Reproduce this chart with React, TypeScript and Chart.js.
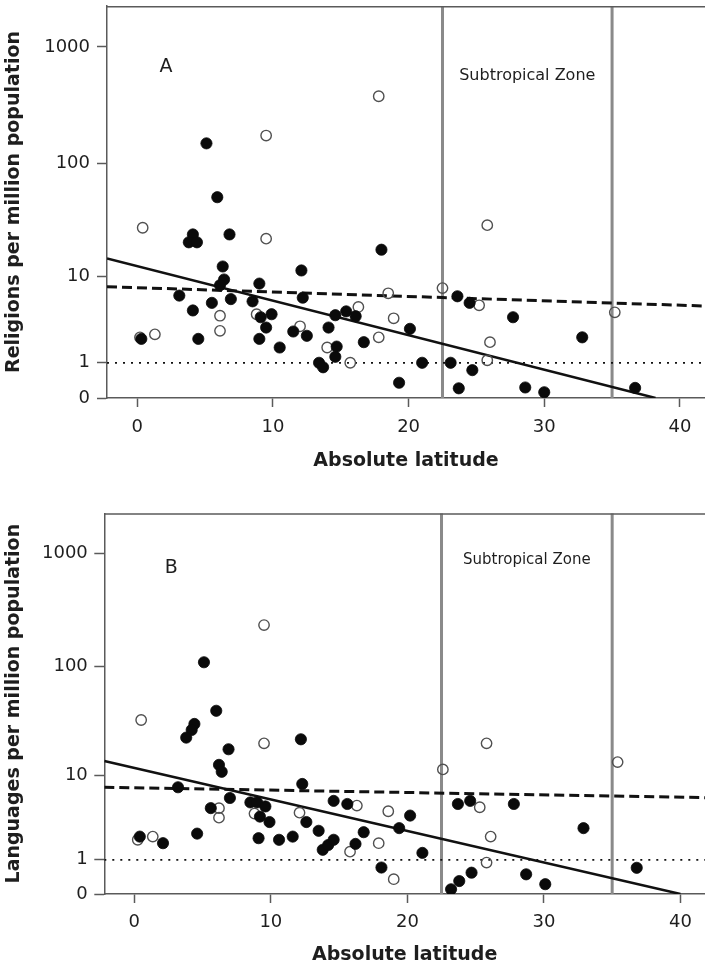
import React, { useEffect, useRef } from "react";
import { Chart, registerables } from "chart.js";

Chart.register(...registerables);

const FONT = "'DejaVu Sans', 'Verdana', sans-serif";
const TEXT = "#1e1e1e";
const AXIS = "#5a5a5a";
const CANVAS_W = 705;

// ---------- shared axis info ----------
const xTickValues = [0, 10, 20, 30, 40];
const yTickValues = [0, 1, 10, 100, 1000];
const yTickLabels = ["0", "1", "10", "100", "1000"];
const zoneBounds = [22.5, 35];
const zoneLabel = "Subtropical Zone";
const xTitle = "Absolute latitude";
const refLineValue = 1;

// ---------- Panel A: religions ----------
const aFilledLat = [0.3, 5.1, 5.9, 4.1, 3.8, 4.4, 6.8, 6.3, 6.4, 6.1, 3.1, 4.1, 5.5, 6.9, 4.5, 8.5, 9.0, 9.1, 9.9, 9.5, 9.0, 10.5, 12.1, 12.2, 11.5, 12.5, 14.1, 14.6, 14.7, 14.6, 13.4, 13.7, 15.4, 16.1, 16.7, 18.0, 19.3, 20.1, 21.0, 23.1, 23.6, 24.5, 24.7, 23.7, 27.7, 28.6, 30.0, 32.8, 36.7];
const aFilledVal = [2.2, 149, 51, 24, 20.4, 20.4, 24, 12.3, 9.3, 8.2, 6.5, 4.6, 5.5, 6.0, 2.2, 5.7, 8.5, 3.9, 4.2, 3.0, 2.2, 1.7, 11.3, 6.2, 2.7, 2.4, 3.0, 4.1, 1.75, 1.25, 1.0, 0.83, 4.5, 4.0, 2.0, 17.5, 0.35, 2.9, 1.0, 1.0, 6.4, 5.5, 0.73, 0.21, 3.9, 0.23, 0.12, 2.3, 0.22];
const aOpenLat = [0.2, 1.3, 0.4, 9.5, 9.5, 6.1, 6.1, 8.8, 12.0, 14.0, 15.7, 16.3, 17.8, 17.8, 18.5, 18.9, 22.5, 25.2, 25.8, 26.0, 25.8, 35.2];
const aOpenVal = [2.3, 2.5, 27.5, 174, 22, 4.05, 2.75, 4.2, 3.1, 1.7, 1.0, 5.0, 2.3, 378, 6.85, 3.8, 7.7, 5.2, 29, 2.0, 1.1, 4.4];
const aSolidLat = [-2.23, 38.2];
const aSolidVal = [14.6, 0];
const aDashedLat = [-2.23, 41.85];
const aDashedVal = [7.94, 5.11];

// ---------- Panel B: languages ----------
const bFilledLat = [5.1, 6.0, 4.4, 4.2, 3.8, 6.9, 12.2, 6.2, 6.4, 3.2, 12.3, 7.0, 5.6, 8.5, 9.0, 9.6, 9.2, 9.9, 4.6, 0.4, 2.1, 9.1, 10.6, 11.6, 12.6, 13.5, 13.8, 14.2, 14.6, 14.6, 15.6, 16.2, 16.8, 18.1, 19.4, 20.2, 21.1, 23.7, 24.6, 27.8, 24.7, 23.8, 23.2, 28.7, 30.1, 32.9, 36.8];
const bFilledVal = [108.6, 40, 30.4, 26.8, 22.8, 17.8, 22, 12.7, 10.9, 7.7, 8.3, 6.0, 4.7, 5.4, 5.4, 4.9, 3.8, 3.3, 2.4, 2.2, 1.8, 2.1, 2.0, 2.2, 3.3, 2.6, 1.45, 1.7, 2.0, 5.6, 5.2, 1.76, 2.5, 0.71, 2.8, 3.9, 1.3, 5.2, 5.6, 5.2, 0.54, 0.3, 0.1, 0.49, 0.22, 2.8, 0.7];
const bOpenLat = [9.5, 0.5, 9.5, 6.2, 6.2, 0.25, 1.35, 8.8, 12.1, 15.8, 16.3, 17.9, 18.6, 19.0, 22.6, 25.8, 35.4, 25.3, 26.1, 25.8];
const bOpenVal = [232, 33, 20.2, 4.7, 3.7, 2.0, 2.2, 4.1, 4.2, 1.36, 5.0, 1.8, 4.35, 0.35, 11.5, 20.2, 13.5, 4.8, 2.2, 0.89];
const bSolidLat = [-2.2, 40.0];
const bSolidVal = [13.8, 0];
const bDashedLat = [-2.2, 41.8];
const bDashedVal = [7.7, 6.05];

// log10(v + 1) transform used by the figure's y axis
const tr = (v: number) => Math.log10(v + 1);
const pts = (xs: number[], vs: number[]) => xs.map((x, i) => ({ x, y: tr(vs[i]) }));

const decorPlugin = {
  id: "panelDecor",
  afterDraw(chart: any, _args: any, opts: any) {
    const { ctx, chartArea, scales } = chart;
    ctx.save();
    ctx.strokeStyle = AXIS;
    ctx.lineWidth = 1.5;
    ctx.beginPath();
    ctx.moveTo(chartArea.left, chartArea.top + 0.75);
    ctx.lineTo(chartArea.right, chartArea.top + 0.75);
    ctx.stroke();
    ctx.fillStyle = TEXT;
    ctx.textAlign = "center";
    ctx.textBaseline = "middle";
    ctx.font = `19px ${FONT}`;
    ctx.fillText(opts.letter, chartArea.left + opts.letterDx, chartArea.top + opts.letterDy);
    ctx.font = `${opts.zoneSize}px ${FONT}`;
    const xMid = scales.x.getPixelForValue((zoneBounds[0] + zoneBounds[1]) / 2);
    ctx.fillText(zoneLabel, xMid, chartArea.top + opts.zoneDy);
    ctx.restore();
  },
};

type PanelCfg = {
  filledLat: number[]; filledVal: number[];
  openLat: number[]; openVal: number[];
  solidLat: number[]; solidVal: number[];
  dashedLat: number[]; dashedVal: number[];
  yTitle: string; xMin: number; xMax: number; yMaxT: number;
  padTop: number; yAxisWidth: number; xAxisHeight: number;
  xTickPad: number; yTickPad: number; xTitlePad: number;
  letter: string; letterDx: number; letterDy: number; zoneDy: number; zoneSize: number;
};

function Panel({ cfg, top, height }: { cfg: PanelCfg; top: number; height: number }) {
  const ref = useRef<HTMLCanvasElement>(null);
  useEffect(() => {
    const tickFont = { family: FONT, size: 18 };
    const titleFont = { family: FONT, size: 19, weight: "bold" as const };
    const lineDs = (data: any[], extra: any) => ({
      type: "line" as const, data, showLine: true, pointRadius: 0, fill: false,
      borderColor: "#111", borderWidth: 2.5, tension: 0, ...extra,
    });
    const chart = new Chart(ref.current!, {
      type: "scatter",
      data: {
        datasets: [
          ...zoneBounds.map((z) =>
            lineDs([{ x: z, y: 0 }, { x: z, y: cfg.yMaxT }], { borderColor: "#8a8a8a", borderWidth: 3, order: 10 })
          ),
          lineDs(pts([cfg.xMin, cfg.xMax], [refLineValue, refLineValue]), { borderWidth: 1.8, borderDash: [2, 6], order: 6 }),
          lineDs(pts(cfg.solidLat, cfg.solidVal), { order: 5 }),
          lineDs(pts(cfg.dashedLat, cfg.dashedVal), { borderWidth: 3, borderDash: [10, 5], order: 5 }),
          {
            data: pts(cfg.openLat, cfg.openVal), showLine: false, pointRadius: 5.2,
            pointBackgroundColor: "rgba(255,255,255,0)", pointBorderColor: "#505050", pointBorderWidth: 1.4, order: 2,
          },
          {
            data: pts(cfg.filledLat, cfg.filledVal), showLine: false, pointRadius: 5.6,
            pointBackgroundColor: "#0a0a0a", pointBorderColor: "#0a0a0a", pointBorderWidth: 0.8, order: 1,
          },
        ],
      },
      options: {
        responsive: false,
        animation: false,
        events: [],
        layout: { autoPadding: false, padding: { top: cfg.padTop, left: 0, right: 0, bottom: 0 } },
        plugins: {
          legend: { display: false },
          tooltip: { enabled: false },
          panelDecor: { letter: cfg.letter, letterDx: cfg.letterDx, letterDy: cfg.letterDy, zoneDy: cfg.zoneDy, zoneSize: cfg.zoneSize },
        } as any,
        scales: {
          x: {
            type: "linear", min: cfg.xMin, max: cfg.xMax,
            afterBuildTicks: (s: any) => { s.ticks = xTickValues.map((v) => ({ value: v })); },
            afterFit: (s: any) => { s.height = cfg.xAxisHeight; s.paddingLeft = 0; s.paddingRight = 0; },
            ticks: { font: tickFont, color: TEXT, padding: cfg.xTickPad, autoSkip: false, maxRotation: 0, callback: (v: any) => String(v) },
            grid: { drawOnChartArea: false, drawTicks: true, tickLength: 9, tickColor: AXIS, tickWidth: 1.5 },
            border: { display: true, color: AXIS, width: 1.5 },
            title: { display: true, text: xTitle, font: titleFont, color: TEXT, padding: { top: 0, bottom: cfg.xTitlePad } },
          },
          y: {
            type: "linear", min: 0, max: cfg.yMaxT,
            afterBuildTicks: (s: any) => { s.ticks = yTickValues.map((v) => ({ value: tr(v) })); },
            afterFit: (s: any) => { s.width = cfg.yAxisWidth; s.paddingTop = 0; s.paddingBottom = 0; },
            ticks: { font: tickFont, color: TEXT, padding: cfg.yTickPad, autoSkip: false, callback: (_v: any, i: number) => yTickLabels[i] },
            grid: { drawOnChartArea: false, drawTicks: true, tickLength: 10, tickColor: AXIS, tickWidth: 1.5 },
            border: { display: true, color: AXIS, width: 1.5 },
            title: { display: true, text: cfg.yTitle, font: titleFont, color: TEXT, padding: { top: 3, bottom: 0 } },
          },
        },
      },
      plugins: [decorPlugin],
    } as any);
    return () => chart.destroy();
  }, []);
  return (
    <canvas
      ref={ref}
      width={CANVAS_W}
      height={height}
      style={{ position: "absolute", left: 0, top, width: CANVAS_W, height, display: "block" }}
    />
  );
}

const panelA: PanelCfg = {
  filledLat: aFilledLat, filledVal: aFilledVal, openLat: aOpenLat, openVal: aOpenVal,
  solidLat: aSolidLat, solidVal: aSolidVal, dashedLat: aDashedLat, dashedVal: aDashedVal,
  yTitle: "Religions per million population", xMin: -2.23, xMax: 41.85, yMaxT: 3.35,
  padTop: 6, yAxisWidth: 107, xAxisHeight: 82, xTickPad: 10, yTickPad: 7, xTitlePad: 8,
  letter: "A", letterDx: 59, letterDy: 61, zoneDy: 70, zoneSize: 16,
};

const panelB: PanelCfg = {
  filledLat: bFilledLat, filledVal: bFilledVal, openLat: bOpenLat, openVal: bOpenVal,
  solidLat: bSolidLat, solidVal: bSolidVal, dashedLat: bDashedLat, dashedVal: bDashedVal,
  yTitle: "Languages per million population", xMin: -2.2, xMax: 41.8, yMaxT: 3.351,
  padTop: 33.3, yAxisWidth: 104.3, xAxisHeight: 75, xTickPad: 8.5, yTickPad: 6.5, xTitlePad: 2.5,
  letter: "B", letterDx: 67, letterDy: 55, zoneDy: 47, zoneSize: 15,
};

export default function App() {
  useEffect(() => {
    document.documentElement.style.overflow = "hidden";
    document.body.style.margin = "0";
  }, []);
  return (
    <div style={{ position: "absolute", left: 0, top: 0, width: 705, height: 969, overflow: "hidden", background: "#fff" }}>
      <Panel cfg={panelA} top={0} height={480} />
      <Panel cfg={panelB} top={480} height={489} />
    </div>
  );
}
